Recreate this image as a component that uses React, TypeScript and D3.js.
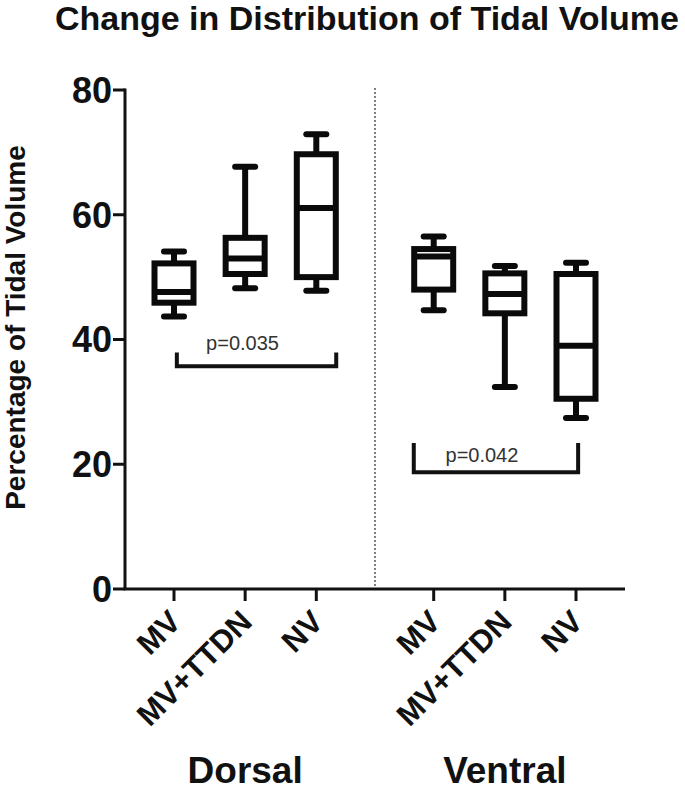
import React from 'react';
import * as d3 from 'd3';

const title = 'Change in Distribution of Tidal Volume';
const yLabel = 'Percentage of Tidal Volume';
const groups = ['Dorsal', 'Ventral'];
const categories = ['MV', 'MV+TTDN', 'NV'];
const yTicks = [0, 20, 40, 60, 80];
// [min, q1, median, q3, max]
const dorsalStats = [
  [43.7, 45.9, 47.6, 52.2, 54.1],
  [48.2, 50.5, 53.0, 56.3, 67.7],
  [47.8, 50.0, 61.1, 69.7, 72.9],
];
const ventralStats = [
  [44.7, 48.0, 53.3, 54.5, 56.5],
  [32.4, 44.2, 47.3, 50.6, 51.8],
  [27.4, 30.5, 39.0, 50.5, 52.3],
];
const bracketLabels = ['p=0.035', 'p=0.042'];
const bracketLevels = [35.7, 18.7];
const bracketTops = [37.9, 23.4];
const bracketFrom = [0.04, -0.28];
const bracketTo = [2.28, 2.03];

const W = 685;
const H = 793;
const GROUP_GAP = 1.65;
const FONT = '"Liberation Sans", Arial, Helvetica, sans-serif';

export default function App() {
  const allStats = [dorsalStats, ventralStats];
  const lastSlot = 2 + GROUP_GAP + 2;
  const x = d3.scaleLinear().domain([0, lastSlot]).range([174, 576]);
  const pad = (174 - 125) / ((576 - 174) / lastSlot);
  const xAxisStart = x(-pad);
  const xAxisEnd = x(lastSlot + pad);
  const y = d3.scaleLinear().domain([0, 80]).range([589, 90]);
  const slot = (g: number, i: number) => i + g * (2 + GROUP_GAP);
  const boxW = 39;
  const capW = 20;
  const divX = x(2 + GROUP_GAP / 2);
  const labelY = [0, 22];

  return (
    <svg width={W} height={H} style={{ position: 'absolute', left: 0, top: 0, background: '#fff' }} fontFamily={FONT}>
      <rect x={0} y={0} width={W} height={H} fill="#fff" />
      <text x={367} y={30} textAnchor="middle" fontSize={34} fontWeight="bold" fill="#111">{title}</text>
      <text transform={`translate(25, ${y(40) - 12}) rotate(-90)`} textAnchor="middle" fontSize={28} fontWeight="bold" fill="#111">{yLabel}</text>

      {/* divider */}
      <line x1={divX} x2={divX} y1={88} y2={y(0)} stroke="#555" strokeWidth={1.5} strokeDasharray="2,2" />

      {/* y axis */}
      <line x1={xAxisStart} x2={xAxisStart} y1={y(80) - 1.5} y2={y(0)} stroke="#111" strokeWidth={3} />
      {yTicks.map((t) => (
        <g key={t}>
          <line x1={xAxisStart - 12} x2={xAxisStart} y1={y(t)} y2={y(t)} stroke="#111" strokeWidth={3} />
          <text x={xAxisStart - 13} y={y(t)} dy="0.36em" textAnchor="end" fontSize={36} fontWeight="bold" fill="#111">{t}</text>
        </g>
      ))}

      {/* x axis */}
      <line x1={xAxisStart - 1.5} x2={xAxisEnd} y1={y(0)} y2={y(0)} stroke="#111" strokeWidth={3} />
      {groups.map((g, gi) => (
        <g key={g}>
          {categories.map((c, ci) => {
            const cx = x(slot(gi, ci));
            return (
              <g key={c}>
                <line x1={cx} x2={cx} y1={y(0)} y2={y(0) + 12} stroke="#111" strokeWidth={3} />
                <text transform={`translate(${cx + 1}, ${y(0) + 27}) rotate(-45)`} dy="0.35em" textAnchor="end" fontSize={31} fontWeight="bold" fill="#111">{c}</text>
              </g>
            );
          })}
          <text x={x(slot(gi, 1))} y={783} textAnchor="middle" fontSize={37} fontWeight="bold" fill="#111">{g}</text>
        </g>
      ))}

      {/* boxes */}
      {allStats.map((gs, gi) =>
        gs.map((s, ci) => {
          const cx = x(slot(gi, ci));
          const [mn, q1, md, q3, mx] = s;
          return (
            <g key={`${gi}-${ci}`} stroke="#0a0a0a" strokeWidth={6}>
              <line x1={cx} x2={cx} y1={y(mx)} y2={y(q3)} />
              <line x1={cx} x2={cx} y1={y(q1)} y2={y(mn)} />
              <line x1={cx - capW / 2} x2={cx + capW / 2} y1={y(mx)} y2={y(mx)} strokeLinecap="round" />
              <line x1={cx - capW / 2} x2={cx + capW / 2} y1={y(mn)} y2={y(mn)} strokeLinecap="round" />
              <rect x={cx - boxW / 2} y={y(q3)} width={boxW} height={y(q1) - y(q3)} fill="#fff" />
              <line x1={cx - boxW / 2} x2={cx + boxW / 2} y1={y(md)} y2={y(md)} />
            </g>
          );
        })
      )}

      {/* significance brackets */}
      {groups.map((g, gi) => {
        const x1 = x(slot(gi, 0) + bracketFrom[gi]);
        const x2 = x(slot(gi, 0) + bracketTo[gi]);
        const yl = y(bracketLevels[gi]);
        const yt = y(bracketTops[gi]);
        return (
          <g key={`b-${g}`}>
            <path d={`M${x1},${yt}V${yl}H${x2}V${yt}`} fill="none" stroke="#111" strokeWidth={4} />
            <text x={(x1 + x2) / 2 - 14} y={yt - 3 + labelY[gi]} textAnchor="middle" fontSize={20} fill="#333">{bracketLabels[gi]}</text>
          </g>
        );
      })}
    </svg>
  );
}
